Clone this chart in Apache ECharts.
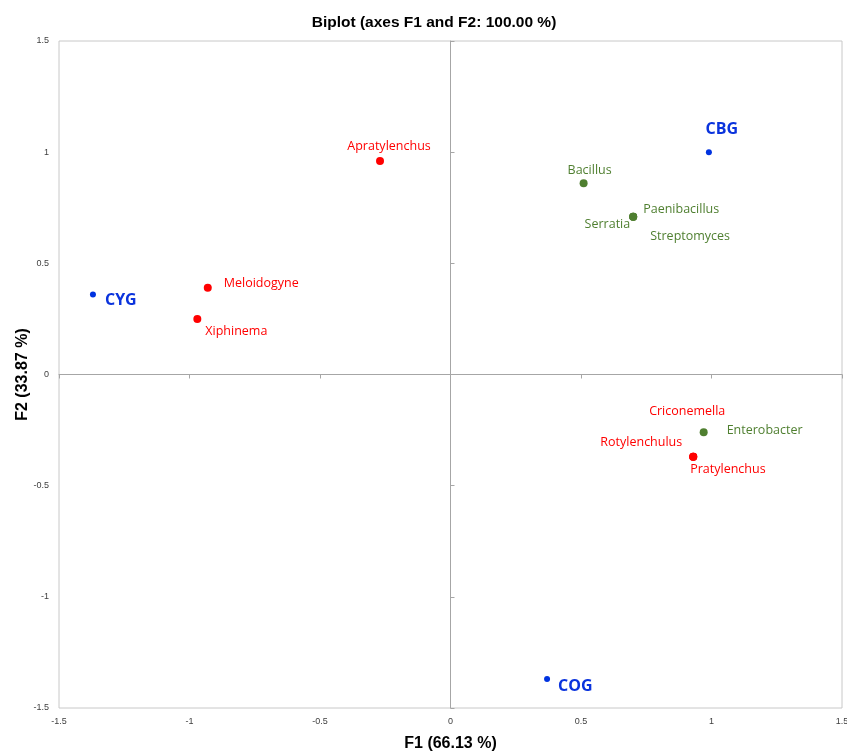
<!DOCTYPE html>
<html>
<head>
<meta charset="utf-8">
<script src="https://cdn.jsdelivr.net/npm/echarts@6/dist/echarts.min.js"></script>
<style>html,body{margin:0;padding:0;background:#fff;}#c{width:847px;height:751px;}</style>
</head>
<body>
<div id="c"></div>
<script>
// ---- data ----
const obsNames = ['CBG', 'CYG', 'COG'];
const obsF1 = [0.99, -1.37, 0.37];
const obsF2 = [1.00, 0.36, -1.37];

const nemNames = ['Apratylenchus', 'Meloidogyne', 'Xiphinema', 'Criconemella', 'Rotylenchulus', 'Pratylenchus'];
const nemF1 = [-0.27, -0.93, -0.97, 0.93, 0.93, 0.93];
const nemF2 = [0.96, 0.39, 0.25, -0.37, -0.37, -0.37];

const bacNames = ['Bacillus', 'Paenibacillus', 'Serratia', 'Streptomyces', 'Enterobacter'];
const bacF1 = [0.51, 0.70, 0.70, 0.70, 0.97];
const bacF2 = [0.86, 0.71, 0.71, 0.71, -0.26];

const axisTicks = [-1.5, -1, -0.5, 0, 0.5, 1, 1.5];

// ---- label placement (style, not data) ----
const labelPlace = {
  CBG: [13, -23, 'center'],
  CYG: [12, 6, 'left'],
  COG: [11, 7, 'left'],
  Apratylenchus: [9, -15, 'center'],
  Meloidogyne: [16, -4, 'left'],
  Xiphinema: [8, 13, 'left'],
  Bacillus: [6, -13, 'center'],
  Paenibacillus: [10, -7, 'left'],
  Serratia: [-3, 8, 'right'],
  Streptomyces: [17, 20, 'left'],
  Criconemella: [-6, -45, 'center'],
  Rotylenchulus: [-11, -14, 'right'],
  Pratylenchus: [-3, 13, 'left'],
  Enterobacter: [23, -2, 'left']
};

function build(names, xs, ys, font, color, weight, size) {
  return names.map((n, i) => {
    const p = labelPlace[n];
    return {
      name: n,
      value: [xs[i], ys[i]],
      label: {
        show: true, formatter: n, position: 'inside',
        offset: [p[0], p[1]], align: p[2], verticalAlign: 'middle',
        color: color, opacity: 1, fontFamily: font, fontWeight: weight, fontSize: size
      }
    };
  });
}

const chart = echarts.init(document.getElementById('c'));
const lblFont = 'Open Sans';
const axisCommon = {
  type: 'value', min: -1.5, max: 1.5, interval: 0.5,
  splitLine: { show: false }
};
const fmt = v => (axisTicks.includes(v) ? String(v) : '');

chart.setOption({
  animation: false,
  backgroundColor: '#ffffff',
  title: {
    text: 'Biplot (axes F1 and F2: 100.00 %)',
    left: 429, top: 10, textAlign: 'center',
    textStyle: { fontFamily: 'Liberation Sans', fontWeight: 'bold', fontSize: 15.5, color: '#000' }
  },
  grid: { left: 59, right: 5, top: 41, bottom: 43, show: true, borderColor: '#c8c8c8', borderWidth: 1,
          outerBoundsMode: 'none', containLabel: false },
  xAxis: [
    Object.assign({}, axisCommon, {
      position: 'bottom',
      axisLine: { show: false, onZero: false },
      axisTick: { show: false },
      axisLabel: { formatter: fmt, fontSize: 9, color: '#404040', fontFamily: 'Liberation Sans Narrow, Liberation Sans', margin: 9 },
      name: 'F1 (66.13 %)', nameLocation: 'middle', nameGap: 28,
      nameTextStyle: { fontFamily: 'Liberation Sans', fontWeight: 'bold', fontSize: 16, color: '#000' }
    }),
    Object.assign({}, axisCommon, {
      position: 'top',
      axisLine: { show: true, onZero: true, lineStyle: { color: '#a6a6a6', width: 1 } },
      axisTick: { show: true, inside: true, length: 4, lineStyle: { color: '#a6a6a6' } },
      axisLabel: { show: false }
    })
  ],
  yAxis: [
    Object.assign({}, axisCommon, {
      position: 'left',
      axisLine: { show: false, onZero: false },
      axisTick: { show: false },
      axisLabel: { formatter: fmt, fontSize: 9, color: '#404040', fontFamily: 'Liberation Sans Narrow, Liberation Sans', margin: 10 },
      name: 'F2 (33.87 %)', nameLocation: 'middle', nameGap: 28, nameRotate: 90, nameMoveOverlap: false,
      nameTextStyle: { fontFamily: 'Liberation Sans', fontWeight: 'bold', fontSize: 16, color: '#000' }
    }),
    Object.assign({}, axisCommon, {
      position: 'right',
      axisLine: { show: true, onZero: true, lineStyle: { color: '#a6a6a6', width: 1 } },
      axisTick: { show: true, inside: false, length: 4, lineStyle: { color: '#a6a6a6' } },
      axisLabel: { show: false }
    })
  ],
  series: [
    {
      name: 'Bacteria', type: 'scatter', xAxisIndex: 0, yAxisIndex: 0,
      symbolSize: 8, itemStyle: { color: '#4f7f30', opacity: 1 },
      data: build(bacNames, bacF1, bacF2, lblFont, '#4f7f30', 'normal', 12.5)
    },
    {
      name: 'Nematodes', type: 'scatter', xAxisIndex: 0, yAxisIndex: 0,
      symbolSize: 8, itemStyle: { color: '#ff0000', opacity: 1 },
      data: build(nemNames, nemF1, nemF2, lblFont, '#ff0000', 'normal', 12.5)
    },
    {
      name: 'Observations', type: 'scatter', xAxisIndex: 0, yAxisIndex: 0,
      symbolSize: 6, itemStyle: { color: '#0033e0', opacity: 1 },
      data: build(obsNames, obsF1, obsF2, 'Open Sans', '#0a33dd', 'bold', 16)
    }
  ]
});
</script>
</body>
</html>
